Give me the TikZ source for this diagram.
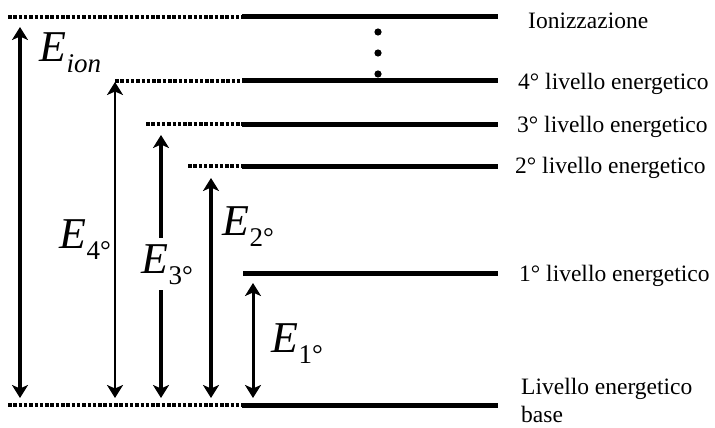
\documentclass[tikz,border=0pt]{standalone}
\usepackage{fontspec}
\setmainfont{Liberation Serif}
\usetikzlibrary{arrows.meta}

\tikzset{
  livello/.style={line width=5pt},
  tratteggio/.style={line width=4pt, dash pattern=on 3.5pt off 1.8pt},
  punta/.tip={Stealth[length=13pt,width=16pt,inset=3.5pt]},
  freccia/.style={punta-punta},
  testo/.style={anchor=west, inner sep=0pt, font=\fontsize{23.5}{28}\selectfont},
  energia/.style={anchor=base west, inner sep=0pt},
}
\newcommand{\Elab}[1]{\fontsize{44}{44}\selectfont\itshape E\kern0.5pt\raisebox{-11pt}{\fontsize{27}{27}\selectfont\upshape #1}}

\begin{document}
\begin{tikzpicture}[x=1pt,y=-1pt]
    \useasboundingbox (0,0) rectangle (715,428);
    % livelli energetici
    \coordinate (ionA) at (8,17);    \coordinate (ionB) at (242,17);   \coordinate (ionC) at (498,17);
    \coordinate (l4A) at (115,81);   \coordinate (l4B) at (242,81);    \coordinate (l4C) at (498,81);
    \coordinate (l3A) at (146,124);  \coordinate (l3B) at (242,124);   \coordinate (l3C) at (498,124);
    \coordinate (l2A) at (188,166);  \coordinate (l2B) at (242,166);   \coordinate (l2C) at (498,166);
    \coordinate (l1B) at (243,273);  \coordinate (l1C) at (498,273);
    \coordinate (bsA) at (8,405);    \coordinate (bsB) at (242,405);   \coordinate (bsC) at (498,405);
    \draw[tratteggio] (ionA)--(ionB);  \draw[livello] (ionB)--(ionC);
    \draw[tratteggio] (l4A)--(l4B);    \draw[livello] (l4B)--(l4C);
    \draw[tratteggio] (l3A)--(l3B);    \draw[livello] (l3B)--(l3C);
    \draw[tratteggio] (l2A)--(l2B);    \draw[livello] (l2B)--(l2C);
    \draw[livello] (l1B)--(l1C);
    \draw[tratteggio] (bsA)--(bsB);    \draw[livello] (bsB)--(bsC);
    % puntini
    \foreach \y in {32,53,74} \fill (378,\y) circle (3.6pt);
    % etichette a destra
    \node[testo] (tion) at (528,21) {Ionizzazione};
    \node[testo] (t4) at (518,84) {4° livello energetico};
    \node[testo] (t3) at (517,127) {3° livello energetico};
    \node[testo] (t2) at (515,168) {2° livello energetico};
    \node[testo] (t1) at (519,276) {1° livello energetico};
    \node[testo, align=left] (tb) at (521,400) {Livello energetico\\base};
    % frecce
    \coordinate (aion) at (20,27);   \coordinate (bion) at (20,398);
    \coordinate (a4) at (115,82);    \coordinate (b4) at (115,398);
    \coordinate (a3) at (161,135);   \coordinate (b3) at (161,398);
    \coordinate (a2) at (211,178);   \coordinate (b2) at (211,398);
    \coordinate (a1) at (253,283);   \coordinate (b1) at (253,398);
    \draw[freccia, line width=4pt] (aion)--(bion);
    \draw[freccia, line width=2.6pt] (a4)--(b4);
    \draw[freccia, line width=4pt] (a3)--(b3);
    \draw[freccia, line width=4pt] (a2)--(b2);
    \draw[freccia, line width=3pt] (a1)--(b1);
    % energie
    \node[energia] (Eion) at (39,62) {\Elab{\itshape ion}};
    \node[energia] (E4) at (59,248) {\Elab{4°}};
    \node[energia, fill=white, inner ysep=6pt] (E3) at (141,273) {\Elab{3°}};
    \node[energia] (E2) at (222,235) {\Elab{2°}};
    \node[energia] (E1) at (271,352) {\Elab{1°}};
\end{tikzpicture}
\end{document}
